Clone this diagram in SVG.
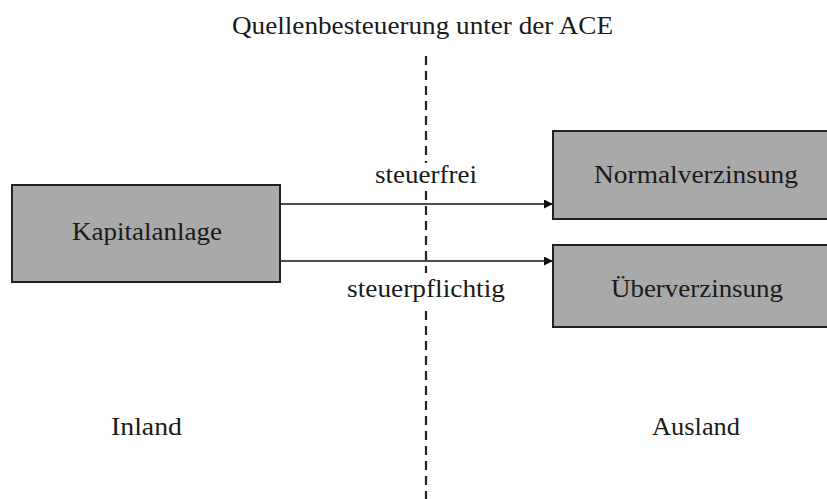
<svg xmlns="http://www.w3.org/2000/svg" width="827" height="499" viewBox="0 0 827 499">
<style>
text{font-family:"Liberation Serif","DejaVu Serif",serif;fill:#1a1a1a;}
.t{font-size:25px;}
.box{fill:#a9a9a9;stroke:#222;stroke-width:2;}
.conn{stroke:#111;stroke-width:1.5;fill:none;}
.dash{stroke:#222;stroke-width:2.2;stroke-dasharray:9 6;fill:none;}
.bg{fill:#fff;}
</style>
<defs>
<marker id="ah" viewBox="0 0 10 10" refX="10" refY="5" markerWidth="9" markerHeight="9" markerUnits="userSpaceOnUse" orient="auto">
<path d="M0,0 L10,5 L0,10 z" fill="#111"/>
</marker>
</defs>
<rect width="827" height="499" fill="#fff"/>
<text class="t" x="232" y="34" textLength="381" lengthAdjust="spacingAndGlyphs">Quellenbesteuerung unter der ACE</text>
<line class="dash" x1="426" y1="56" x2="426" y2="499"/>
<g id="kapitalanlage">
<rect class="box" x="12" y="185" width="268" height="97"/>
<text class="t" x="72" y="240" textLength="150" lengthAdjust="spacingAndGlyphs">Kapitalanlage</text>
</g>
<g id="normalverzinsung">
<rect class="box" x="553" y="131" width="290" height="88"/>
<text class="t" x="594" y="183" textLength="204" lengthAdjust="spacingAndGlyphs">Normalverzinsung</text>
</g>
<g id="ueberverzinsung">
<rect class="box" x="553" y="245" width="290" height="82"/>
<text class="t" x="611" y="297" textLength="172" lengthAdjust="spacingAndGlyphs">Überverzinsung</text>
</g>
<g id="connectors">
<line class="conn" x1="281" y1="204" x2="553" y2="204" marker-end="url(#ah)"/>
<line class="conn" x1="281" y1="261" x2="553" y2="261" marker-end="url(#ah)"/>
<rect class="bg" x="372" y="163" width="108" height="27"/>
<text class="t" x="375" y="183" textLength="102" lengthAdjust="spacingAndGlyphs">steuerfrei</text>
<rect class="bg" x="344" y="273" width="164" height="33"/>
<text class="t" x="347" y="297" textLength="158" lengthAdjust="spacingAndGlyphs">steuerpflichtig</text>
</g>
<text class="t" x="111" y="435" textLength="71" lengthAdjust="spacingAndGlyphs">Inland</text>
<text class="t" x="652" y="435" textLength="88" lengthAdjust="spacingAndGlyphs">Ausland</text>
</svg>
